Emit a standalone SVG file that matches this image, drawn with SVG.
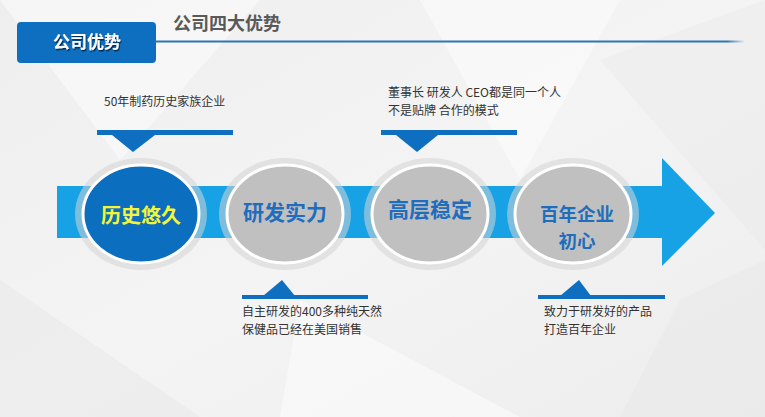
<svg xmlns="http://www.w3.org/2000/svg" width="765" height="417" viewBox="0 0 765 417">
<defs>
<style>
.cjk{font-family:"Noto Sans CJK SC","Noto Sans",sans-serif}
.note{font-size:12px;fill:#333}
.bar{fill:#0e6fc0}
.halo{fill:#d4d4d4;fill-opacity:0.55}
.gray{fill:#c0c0c0;stroke:#fff;stroke-width:3}
.ctext{font-size:21px;font-weight:bold;fill:#1f6dbd;text-anchor:middle}
.ctext2{font-size:18.5px}
.tri{fill:#ffffff;opacity:0.45}
</style>
<linearGradient id="bg" x1="0" y1="0" x2="1" y2="1">
<stop offset="0" stop-color="#eeeeee"/>
<stop offset="0.5" stop-color="#f4f4f4"/>
<stop offset="1" stop-color="#ededed"/>
</linearGradient>
<linearGradient id="hl" x1="0" y1="0" x2="1" y2="0">
<stop offset="0" stop-color="#2e75b6"/>
<stop offset="0.97" stop-color="#2e75b6"/>
<stop offset="1" stop-color="#2e75b6" stop-opacity="0"/>
</linearGradient>
<filter id="sh" x="-10%" y="-10%" width="130%" height="140%">
<feDropShadow dx="1" dy="1.5" stdDeviation="0.6" flood-color="#000" flood-opacity="0.6"/>
</filter>
</defs>
<rect width="765" height="417" fill="url(#bg)"/>
<g id="texture">
<polygon class="tri" points="0,0 260,0 120,160"/>
<polygon class="tri" points="420,0 620,0 520,180"/>
<polygon points="600,60 765,0 765,250" fill="#e8e8e8" opacity="0.4"/>
<polygon points="0,280 200,417 0,417" fill="#e8e8e8" opacity="0.5"/>
<polygon class="tri" points="300,300 520,417 280,417"/>
<polygon points="680,300 765,260 765,417 620,417" fill="#e6e6e6" opacity="0.4"/>
</g>
<g id="header">
<rect x="17" y="22" width="139" height="41" rx="4" fill="#0e6fc0"/>
<text class="cjk" x="87" y="48" font-size="17" font-weight="bold" fill="#fff" text-anchor="middle" filter="url(#sh)">公司优势</text>
<text class="cjk" x="173" y="30" font-size="18" font-weight="bold" fill="#595959">公司四大优势</text>
<rect x="155" y="40.5" width="590" height="2" fill="url(#hl)"/>
</g>
<g id="arrow">
<rect x="57" y="186" width="607" height="52" fill="#17a2e6"/>
<polygon points="662,158 715,213 662,266" fill="#17a2e6"/>
</g>
<g id="node1">
<ellipse class="halo" cx="141" cy="214" rx="66" ry="56"/>
<ellipse cx="141" cy="214" rx="58" ry="49" fill="#0b6ebf" stroke="#fff" stroke-width="3"/>
<text class="cjk" x="141" y="223" font-size="20" font-weight="bold" fill="#f3f53a" text-anchor="middle">历史悠久</text>
</g>
<g id="node2">
<ellipse class="halo" cx="285" cy="214" rx="66" ry="56"/>
<ellipse class="gray" cx="285" cy="214" rx="58" ry="49"/>
<text class="cjk ctext" x="285" y="220">研发实力</text>
</g>
<g id="node3">
<ellipse class="halo" cx="430" cy="214" rx="66" ry="56"/>
<ellipse class="gray" cx="430" cy="214" rx="58" ry="49"/>
<text class="cjk ctext" x="430" y="217">高层稳定</text>
</g>
<g id="node4">
<ellipse class="halo" cx="573" cy="214" rx="66" ry="56"/>
<ellipse class="gray" cx="573" cy="214" rx="58" ry="49"/>
<text class="cjk ctext ctext2" x="577" y="221">百年企业</text>
<text class="cjk ctext ctext2" x="577" y="248">初心</text>
</g>
<g id="callout1">
<text class="cjk note" x="104" y="106">50年制药历史家族企业</text>
<rect class="bar" x="97" y="130" width="136" height="5"/>
<polygon class="bar" points="112,135 155,135 133,152"/>
</g>
<g id="callout3">
<text class="cjk note" x="388" y="97">董事长 研发人 CEO都是同一个人</text>
<text class="cjk note" x="388" y="115">不是贴牌 合作的模式</text>
<rect class="bar" x="381" y="130" width="136" height="5"/>
<polygon class="bar" points="396,135 438,135 417,152"/>
</g>
<g id="callout2">
<polygon class="bar" points="263,296 295,296 282,280"/>
<rect class="bar" x="242" y="295" width="126" height="4"/>
<text class="cjk note" x="242" y="316">自主研发的400多种纯天然</text>
<text class="cjk note" x="242" y="334">保健品已经在美国销售</text>
</g>
<g id="callout4">
<polygon class="bar" points="560,296 591,296 579,280"/>
<rect class="bar" x="538" y="295" width="127" height="4"/>
<text class="cjk note" x="544" y="316">致力于研发好的产品</text>
<text class="cjk note" x="544" y="334">打造百年企业</text>
</g>
</svg>
